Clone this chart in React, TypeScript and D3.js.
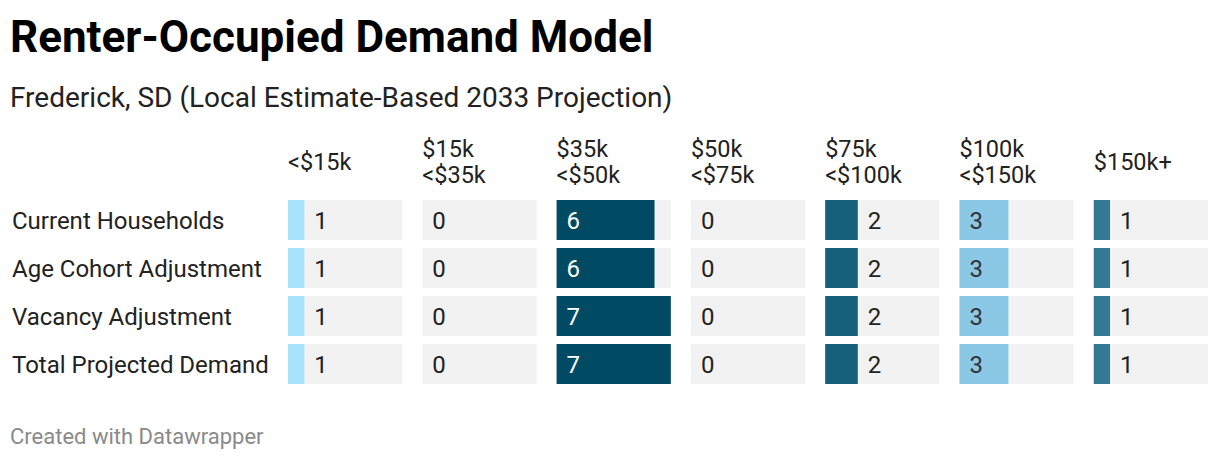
import * as d3 from 'd3';

const WIDTH = 1220;
const HEIGHT = 460;
const FONT = 'Roboto, "Noto Sans", sans-serif';

// income bands (header lines)
const incomeBands = ['<$15k', '$15k|<$35k', '$35k|<$50k', '$50k|<$75k', '$75k|<$100k', '$100k|<$150k', '$150k+'];
const bandColors = ['#a7e4fc', '#1d6a86', '#004a63', '#1d6a86', '#17607a', '#8bc8e6', '#347994'];

const rowLabels = ['Current Households', 'Age Cohort Adjustment', 'Vacancy Adjustment', 'Total Projected Demand'];
const currentHouseholds = [1, 0, 6, 0, 2, 3, 1];
const ageCohortAdjustment = [1, 0, 6, 0, 2, 3, 1];
const vacancyAdjustment = [1, 0, 7, 0, 2, 3, 1];
const totalProjectedDemand = [1, 0, 7, 0, 2, 3, 1];
const rowValues = [currentHouseholds, ageCohortAdjustment, vacancyAdjustment, totalProjectedDemand];

export default function App() {
  const x = d3.scaleBand<string>().domain(incomeBands).range([288, 1208]).paddingInner(20 / 134);
  const y = d3.scaleBand<string>().domain(rowLabels).range([200, 384]).paddingInner(8 / 48);
  const maxVal = d3.max(rowValues.flat()) ?? 1;
  const w = d3.scaleLinear().domain([0, maxVal]).range([0, x.bandwidth()]);

  return (
    <div style={{ position: 'absolute', left: 0, top: 0 }}>
      <svg width={WIDTH} height={HEIGHT} style={{ display: 'block', background: '#fff' }} fontFamily={FONT}>
        <text x={10} y={52} fontSize={44} fontWeight={700} fill="#000">
          Renter-Occupied Demand Model
        </text>
        <text x={10} y={107} fontSize={28} fill="#222">
          Frederick, SD (Local Estimate-Based 2033 Projection)
        </text>

        {/* column headers */}
        {incomeBands.map((b) => {
          const lines = b.split('|');
          const lh = 26;
          const base = 170 - ((lines.length - 1) * lh) / 2;
          return (
            <text key={b} x={x(b)} fontSize={23.5} fill="#222">
              {lines.map((l, i) => (
                <tspan key={i} x={x(b)} y={base + i * lh}>{l}</tspan>
              ))}
            </text>
          );
        })}

        {/* rows */}
        {rowLabels.map((r, ri) => {
          const ry = y(r)!;
          const h = y.bandwidth();
          const cy = ry + h / 2;
          return (
            <g key={r}>
              <text x={12} y={cy + 8.5} fontSize={24} fill="#222">{r}</text>
              {rowValues[ri].map((v, ci) => {
                const b = incomeBands[ci];
                const cx = x(b)!;
                const bw = w(v);
                const inside = bw >= 40;
                const col = bandColors[ci];
                const lightBar = d3.hsl(col).l > 0.55;
                const tx = inside ? cx + 10 : cx + bw + 10;
                const tc = inside ? (lightBar ? '#333' : '#fff') : '#222';
                return (
                  <g key={b}>
                    <rect x={cx} y={ry} width={x.bandwidth()} height={h} fill="#f2f2f2" />
                    <rect x={cx} y={ry} width={bw} height={h} fill={col} />
                    <text x={tx} y={cy + 8.5} fontSize={24} fill={tc}>{v}</text>
                  </g>
                );
              })}
            </g>
          );
        })}

        <text x={10} y={444} fontSize={22} fill="#8a8a8a">Created with Datawrapper</text>
      </svg>
    </div>
  );
}
